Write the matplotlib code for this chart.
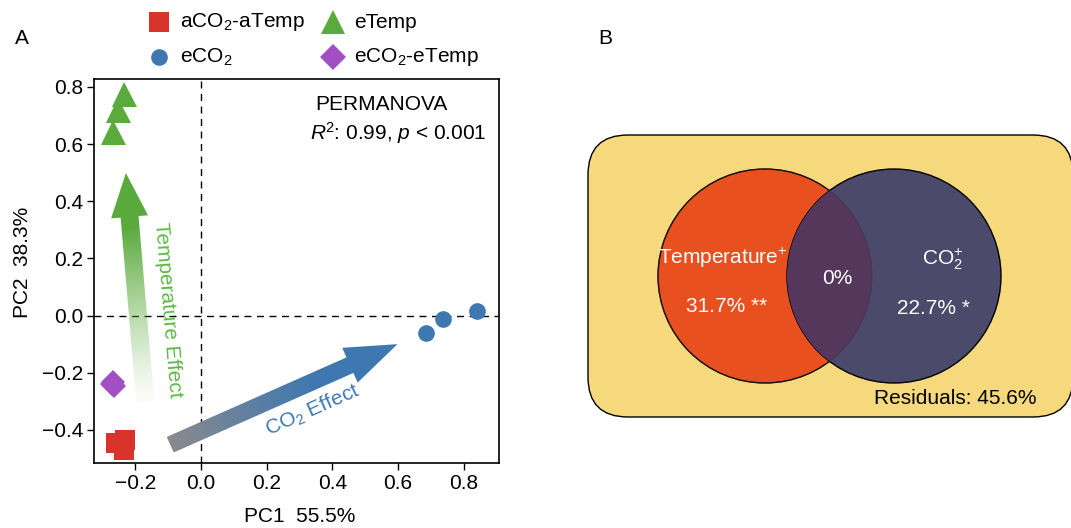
import numpy as np
import matplotlib
matplotlib.use("Agg")
import matplotlib.pyplot as plt
from matplotlib.patches import Polygon, Circle, FancyBboxPatch
from matplotlib.lines import Line2D
from matplotlib.colors import to_rgb

plt.rcParams['font.family'] = ['Liberation Sans', 'DejaVu Sans']
plt.rcParams['mathtext.fontset'] = 'custom'
plt.rcParams['mathtext.rm'] = 'Liberation Sans'
plt.rcParams['mathtext.it'] = 'Liberation Sans:italic'

# ---------------- data ----------------
groups = ["aCO$_2$-aTemp", "eCO$_2$", "eTemp", "eCO$_2$-eTemp"]
colors = ["#d9342b", "#3f78b0", "#5aaa3c", "#a24fc4"]
markers = ["s", "o", "^", "D"]
pc1 = {
    "aCO$_2$-aTemp": [-0.259, -0.231, -0.234],
    "eCO$_2$": [0.684, 0.738, 0.840],
    "eTemp": [-0.234, -0.252, -0.267],
    "eCO$_2$-eTemp": [-0.272, -0.268, -0.266],
}
pc2 = {
    "aCO$_2$-aTemp": [-0.445, -0.436, -0.472],
    "eCO$_2$": [-0.062, -0.012, 0.016],
    "eTemp": [0.776, 0.720, 0.641],
    "eCO$_2$-eTemp": [-0.239, -0.233, -0.245],
}
pc1_label = "PC1  55.5%"
pc2_label = "PC2  38.3%"
xticks = [-0.2, 0.0, 0.2, 0.4, 0.6, 0.8]
yticks = [-0.4, -0.2, 0.0, 0.2, 0.4, 0.6, 0.8]
co2_arrow = [(-0.094, -0.452), (0.598, -0.100)]
temp_arrow = [(-0.170, -0.301), (-0.229, 0.499)]
permanova_r2 = 0.99
permanova_p = "< 0.001"

venn_temp = 31.7
venn_co2 = 22.7
venn_shared = 0
venn_resid = 45.6

W, H = 1071, 528
FS = 15
fig = plt.figure(figsize=(W / 100, H / 100), dpi=100)

# ---------------- panel A ----------------
L, R, T, B = 94, 499, 79, 463
XL = (-0.326, 0.907)
YL = (-0.516, 0.828)
ax = fig.add_axes([L / W, (H - B) / H, (R - L) / W, (B - T) / H])
ax.set_xlim(*XL)
ax.set_ylim(*YL)
ax.set_xticks(xticks)
ax.set_yticks(yticks)
ax.set_xticklabels([f"{v:.1f}".replace("-", "\u2212") for v in xticks])
ax.set_yticklabels([f"{v:.1f}".replace("-", "\u2212") for v in yticks])
ax.tick_params(direction='out', length=5, width=1.0, labelsize=FS, pad=3)
for s in ax.spines.values():
    s.set_linewidth(1.2)
ax.axhline(0, color='black', lw=1.0, ls=(0, (5, 4)), zorder=1)
ax.axvline(0, color='black', lw=1.0, ls=(0, (5, 4)), zorder=1)
ax.set_xlabel(pc1_label, fontsize=FS, va='center')
ax.xaxis.set_label_coords((300 - L) / (R - L), (B - 517) / (B - T))
ax.set_ylabel(pc2_label, fontsize=FS, va='center')
ax.yaxis.set_label_coords((23 - L) / (R - L), (B - 262) / (B - T))

fig.canvas.draw()


def gradient_arrow(ax, tail, tip, shaft_w, head_w, head_l, cfunc, zorder=2):
    tr = ax.transData
    p0 = np.array(tr.transform(tail))
    p1 = np.array(tr.transform(tip))
    d = p1 - p0
    length = np.hypot(*d)
    u = d / length
    n = np.array([-u[1], u[0]])
    hb = p1 - u * head_l
    pts = [p0 + n * shaft_w / 2, hb + n * shaft_w / 2, hb + n * head_w / 2, p1,
           hb - n * head_w / 2, hb - n * shaft_w / 2, p0 - n * shaft_w / 2]
    data_pts = tr.inverted().transform(np.array(pts))
    poly = Polygon(data_pts, closed=True, facecolor='none', edgecolor='none')
    ax.add_patch(poly)
    x0, y0 = data_pts.min(axis=0)
    x1, y1 = data_pts.max(axis=0)
    nx, ny = 300, 300
    gx = np.linspace(x0, x1, nx)
    gy = np.linspace(y0, y1, ny)
    GX, GY = np.meshgrid(gx, gy)
    P = tr.transform(np.column_stack([GX.ravel(), GY.ravel()]))
    t = ((P - p0) @ u) / length
    t = np.clip(t, 0, 1).reshape(ny, nx)
    img = cfunc(t)
    im = ax.imshow(img, extent=(x0, x1, y0, y1), origin='lower', aspect='auto',
                   interpolation='bilinear', zorder=zorder)
    im.set_clip_path(poly)
    ax.set_xlim(*XL)
    ax.set_ylim(*YL)


def co2_cmap(t):
    c0 = np.array(to_rgb("#8a8a8e"))
    c1 = np.array(to_rgb("#3f78b0"))
    f = np.clip(t / 0.62, 0, 1)[..., None]
    rgb = c0 * (1 - f) + c1 * f
    return np.concatenate([rgb, np.ones_like(f)], axis=-1)


def temp_cmap(t):
    c1 = np.array(to_rgb("#5aaa3c"))
    a = np.clip(0.05 + t / 0.8, 0, 1) ** 1.3
    rgb = np.broadcast_to(c1, t.shape + (3,))
    return np.concatenate([rgb, a[..., None]], axis=-1)


gradient_arrow(ax, co2_arrow[0], co2_arrow[1], 17, 38, 52, co2_cmap)
gradient_arrow(ax, temp_arrow[0], temp_arrow[1], 18, 37, 44, temp_cmap)

ax.text(0.341, -0.330, "CO$_2$ Effect", color="#3f78b0", fontsize=FS,
        rotation=23.9, ha='center', va='center', rotation_mode='anchor')
ax.text(-0.100, 0.020, "Temperature Effect", color="#5db946", fontsize=FS,
        rotation=-85.2, ha='center', va='center', rotation_mode='anchor')

sizes = {"s": 15, "o": 12, "^": 18, "D": 12}
for g, c, m in zip(groups, colors, markers):
    ax.plot(pc1[g], pc2[g], ls='none', marker=m, color=c, markersize=sizes[m],
            markeredgewidth=0, zorder=3, clip_on=False)

ax.text((315 - L) / (R - L), (B - 105) / (B - T), "PERMANOVA", transform=ax.transAxes,
        fontsize=FS, ha='left', va='center')
ax.text((310 - L) / (R - L), (B - 133) / (B - T), f"$R$$^2$: {permanova_r2}, $p$ {permanova_p}",
        transform=ax.transAxes, fontsize=FS, ha='left', va='center')

# ---------------- overlay in pixel coords (legend, panel letters) ----------------
ov = fig.add_axes([0, 0, 1, 1], zorder=-1)
ov.set_xlim(0, W)
ov.set_ylim(H, 0)
ov.axis('off')
leg_pos = [(159, 22), (159, 57), (333, 22), (333, 57)]
leg_ms = {"s": 14, "o": 12, "^": 17, "D": 13}
for (px, py), g, c, m in zip(leg_pos, groups, colors, markers):
    ov.plot([px], [py], ls='none', marker=m, color=c, markersize=leg_ms[m], markeredgewidth=0)
    ov.text(px + 21, py, g, fontsize=FS, ha='left', va='center')

ov.text(15, 38, "A", fontsize=FS, ha='left', va='center')
ov.text(598, 38, "B", fontsize=FS, ha='left', va='center')

# ---------------- panel B ----------------
bx0, bx1, by0, by1 = 570, 1071, 120, 430
axb = fig.add_axes([bx0 / W, (H - by1) / H, (bx1 - bx0) / W, (by1 - by0) / H])
axb.set_xlim(bx0, bx1)
axb.set_ylim(by1, by0)
axb.axis('off')

box = FancyBboxPatch((588 + 40, 135 + 40), 1071 - 588 - 80 + 2, 417 - 135 - 80,
                     boxstyle="round,pad=40", facecolor="#f5d97c", edgecolor="black",
                     linewidth=1.0, clip_on=False)
axb.add_patch(box)

c_left = Circle((765, 276), 107, facecolor="#e8501f", edgecolor="black", lw=1.0, zorder=2)
c_right = Circle((894, 276), 107, facecolor="#4b4a6a", edgecolor="black", lw=1.0, zorder=3)
axb.add_patch(c_left)
axb.add_patch(c_right)
overlap = Circle((765, 276), 107, facecolor="#55375c", edgecolor="none", zorder=4)
axb.add_patch(overlap)
overlap.set_clip_path(c_right)
edge_left = Circle((765, 276), 107, facecolor="none", edgecolor="#3a2a40", lw=0.6, zorder=5, alpha=0.5)
axb.add_patch(edge_left)

axb.text(723, 258, "Temperature$^{+}$", color="white", fontsize=FS, ha='center', va='center', zorder=6)
axb.text(727, 307, f"{venn_temp}% **", color="white", fontsize=FS, ha='center', va='center', zorder=6)
axb.text(837, 279, f"{venn_shared}%", color="white", fontsize=FS, ha='center', va='center', zorder=6)
axb.text(943, 259, "CO$_2^{+}$", color="white", fontsize=FS, ha='center', va='center', zorder=6)
axb.text(933, 309, f"{venn_co2}% *", color="white", fontsize=FS, ha='center', va='center', zorder=6)
axb.text(955, 399, f"Residuals: {venn_resid}%", color="black", fontsize=FS, ha='center', va='center', zorder=6)

fig.savefig("out.png", dpi=100)
